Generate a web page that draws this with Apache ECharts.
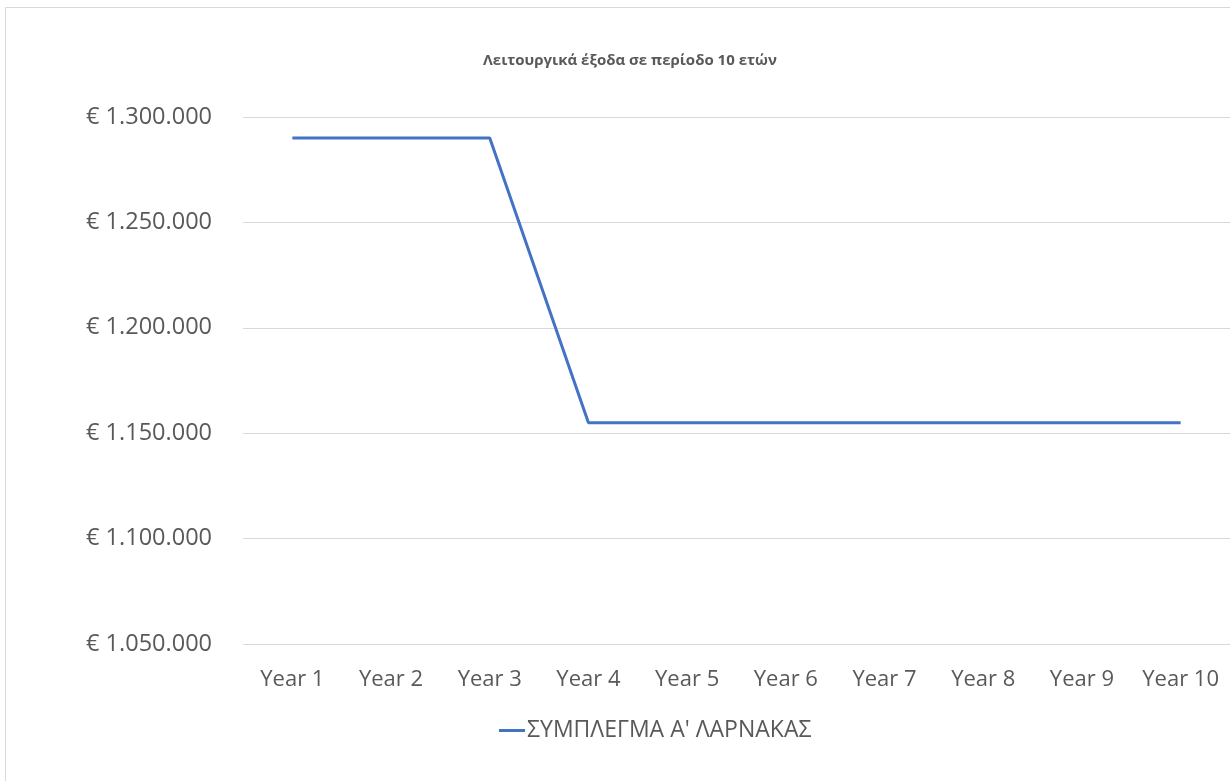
<!DOCTYPE html>
<html>
<head>
<meta charset="utf-8">
<script src="https://cdn.jsdelivr.net/npm/echarts@6/dist/echarts.min.js"></script>
<style>
html,body{margin:0;padding:0;background:#fff;}
#c{width:1230px;height:781px;}
</style>
</head>
<body>
<div id="c"></div>
<script>
const titleText = 'Λειτουργικά έξοδα σε περίοδο 10 ετών';
const seriesName = 'ΣΥΜΠΛΕΓΜΑ Α\' ΛΑΡΝΑΚΑΣ';
const categories = ['Year 1','Year 2','Year 3','Year 4','Year 5','Year 6','Year 7','Year 8','Year 9','Year 10'];
const values = [1290000,1290000,1290000,1155000,1155000,1155000,1155000,1155000,1155000,1155000];
const yMin = 1050000, yMax = 1300000, yStep = 50000;

function fmt(v){
  return '€ ' + String(v).replace(/\B(?=(\d{3})+(?!\d))/g, '.');
}

const chart = echarts.init(document.getElementById('c'), null, {renderer:'canvas'});
const font = '"Open Sans", "Noto Sans", sans-serif';
chart.setOption({
  animation:false,
  backgroundColor:'#fff',
  graphic:[{
    type:'rect', shape:{x:5.5,y:7.5,width:1400,height:1000},
    style:{fill:'none',stroke:'#d9d9d9',lineWidth:1}, z:-1
  }],
  title:{
    text:titleText, left:625, top:48, textAlign:'center',
    textStyle:{fontFamily:font,fontSize:15,fontWeight:'bold',color:'#595959'}
  },
  legend:{
    data:[seriesName], left:494, top:714,
    itemWidth:26, itemHeight:3, itemGap:2,
    icon:'rect',
    textStyle:{fontFamily:font,fontSize:23,color:'#595959',padding:[0,0,0,-3]}
  },
  grid:{left:243, top:117, width:991, height:527, containLabel:false},
  xAxis:{
    type:'category', data:categories, boundaryGap:true,
    axisLine:{show:false}, axisTick:{show:false},
    axisLabel:{fontFamily:font,fontSize:22,color:'#595959',margin:25,interval:0,hideOverlap:false}
  },
  yAxis:{
    type:'value', min:yMin, max:yMax, interval:yStep,
    axisLine:{show:false}, axisTick:{show:false},
    splitLine:{lineStyle:{color:'#d9d9d9',width:1}},
    axisLabel:{fontFamily:font,fontSize:23.5,color:'#595959',margin:31,formatter:fmt}
  },
  series:[{
    name:seriesName, type:'line', data:values,
    symbol:'none', lineStyle:{color:'#4472C4',width:3},
    itemStyle:{color:'#4472C4'}
  }]
});
</script>
</body>
</html>
